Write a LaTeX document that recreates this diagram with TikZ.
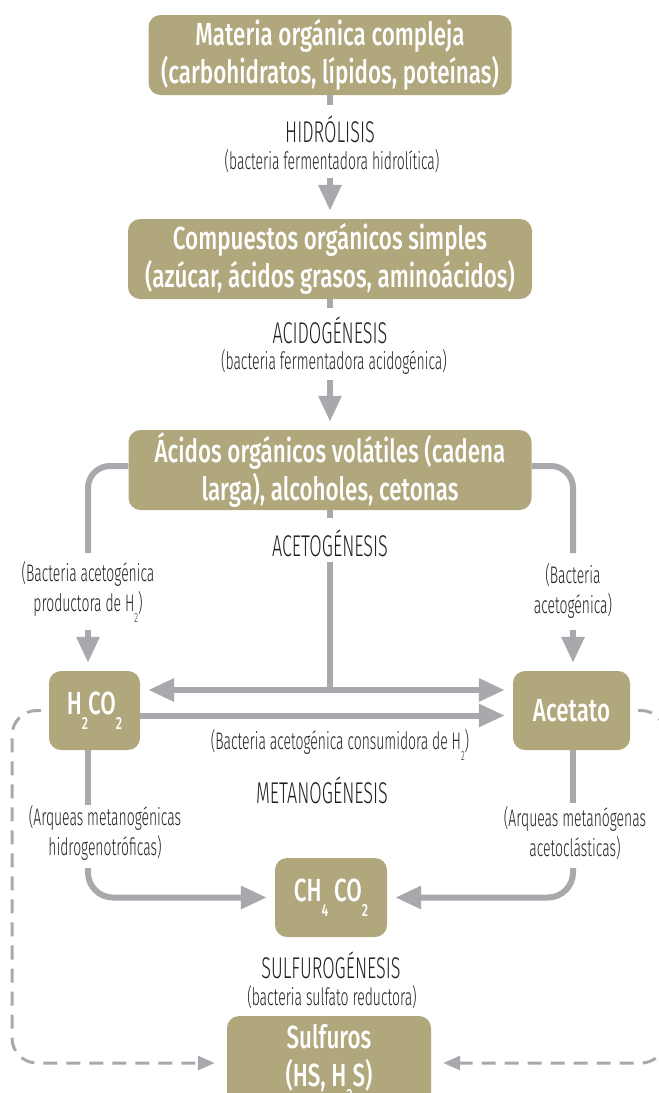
\documentclass[tikz,border=0pt]{standalone}
\usepackage{fontspec}
\usepackage{graphicx}
\usetikzlibrary{arrows.meta}
\newfontfamily\boxfont[FakeStretch=0.70]{Fira Sans Medium}
\newfontfamily\labfont[FakeStretch=0.60]{Fira Sans Light}
\newfontfamily\notfont[FakeStretch=0.58]{Fira Sans Light}
\definecolor{caqui}{RGB}{176,167,125}
\definecolor{gris}{RGB}{167,169,172}
\definecolor{tinta}{RGB}{35,31,32}
\newcommand{\bajo}[1]{\raisebox{-0.9ex}{\scalebox{0.55}{#1}}}
\tikzset{
caja/.style={fill=caqui,rounded corners=12pt,text=white,align=center,inner sep=0pt,font=\boxfont\fontsize{32}{38}\selectfont},
etapa/.style={text=tinta,font=\labfont\fontsize{30}{30}\selectfont},
nota/.style={text=tinta,align=center,font=\notfont\fontsize{24}{30}\selectfont},
linea/.style={draw=gris,line width=6pt},
flecha/.style={linea,-{Triangle[length=26pt,width=22pt]},shorten >=8pt},
rayada/.style={draw=gris,line width=3pt,dash pattern=on 14pt off 9pt,-{Triangle[length=17pt,width=14pt]},shorten <=8pt,shorten >=12pt}
}
\begin{document}
\begin{tikzpicture}[x=1pt,y=-1pt]
\useasboundingbox(0,0)rectangle(659,1093);
\clip(0,0)rectangle(659,1093);
\node[caja,minimum width=363,minimum height=80](mat)at(330,55){Materia orgánica compleja\\(carbohidratos, lípidos, poteínas)};
\node[caja,minimum width=404,minimum height=80](comp)at(330,259){Compuestos orgánicos simples\\(azúcar, ácidos grasos, aminoácidos)};
\node[caja,minimum width=403,minimum height=80](acid)at(330,470){Ácidos orgánicos volátiles (cadena\\larga), alcoholes, cetonas};
\node[caja,minimum width=91,minimum height=79](hco)at(94.5,710.5){H\bajo{2}CO\bajo{2}};
\node[caja,minimum width=117,minimum height=79](acet)at(571.5,710.5){Acetato};
\node[caja,minimum width=112,minimum height=79](metano)at(331,897.5){CH\bajo{4} CO\bajo{2}};
\node[caja,minimum width=204,minimum height=94](sulf)at(329,1063){Sulfuros\\(HS, H\bajo{2}S)};
\node[etapa](hid)at(330,129){HIDRÓLISIS};
\node[nota](hidb)at(332,161){(bacteria fermentadora hidrolítica)};
\node[etapa](acido)at(330,330){ACIDOGÉNESIS};
\node[nota](acidob)at(334,362){(bacteria fermentadora acidogénica)};
\node[etapa](aceto)at(330,543){ACETOGÉNESIS};
\node[nota](acetoi)at(88,592){(Bacteria acetogénica\\productora de H\bajo{2})};
\node[nota](acetod)at(573,591){(Bacteria\\acetogénica)};
\node[nota](consu)at(340,745){(Bacteria acetogénica consumidora de H\bajo{2})};
\node[etapa](meta)at(322,790){METANOGÉNESIS};
\node[nota](metai)at(105,833){(Arqueas metanogénicas\\hidrogenotróficas)};
\node[nota](metad)at(575,833){(Arqueas metanógenas\\acetoclásticas)};
\node[etapa](sulfo)at(331,965){SULFUROGÉNESIS};
\node[nota](sulfob)at(332,997){(bacteria sulfato reductora)};
\coordinate(h1)at(330,105);\coordinate(h2)at(330,178);
\coordinate(a1)at(330,308);\coordinate(a2)at(330,380);
\coordinate(c1)at(330,518);\coordinate(c2)at(330,562);\coordinate(cj)at(330,690);
\coordinate(bl1)at(88,553);\coordinate(bl2)at(88,630);
\coordinate(br1)at(573,553);\coordinate(br2)at(573,630);
\coordinate(ml1)at(88,805);\coordinate(ml2)at(88,868);
\coordinate(mr1)at(573,803);\coordinate(mr2)at(573,868);
\coordinate(dl)at(12,900);\coordinate(dr)at(666,900);
\draw[linea](mat.south)--(h1);
\draw[flecha](h2)--(comp.north);
\draw[linea](comp.south)--(a1);
\draw[flecha](a2)--(acid.north);
\draw[linea,rounded corners=22]([yshift=4pt]acid.west)-|(bl1);
\draw[flecha](bl2)--(bl2|-hco.north);
\draw[linea,rounded corners=22]([yshift=4pt]acid.east)-|(br1);
\draw[flecha](br2)--(br2|-acet.north);
\draw[linea](acid.south)--(c1);
\draw[linea](c2)--(cj);
\draw[flecha](cj)--(cj-|hco.east);
\draw[flecha](cj)--(cj-|acet.west);
\draw[flecha]([yshift=-5pt]hco.east)--([yshift=-5pt]acet.west);
\draw[linea](ml1|-hco.south)--(ml1);
\draw[flecha,rounded corners=25](ml2)|-(metano.west);
\draw[linea](mr1|-acet.south)--(mr1);
\draw[flecha,rounded corners=25](mr2)|-(metano.east);
\draw[rayada,rounded corners=25](hco.west)-|(dl)|-(sulf.west);
\draw[rayada,rounded corners=25](acet.east)-|(dr)|-(sulf.east);
\end{tikzpicture}
\end{document}
